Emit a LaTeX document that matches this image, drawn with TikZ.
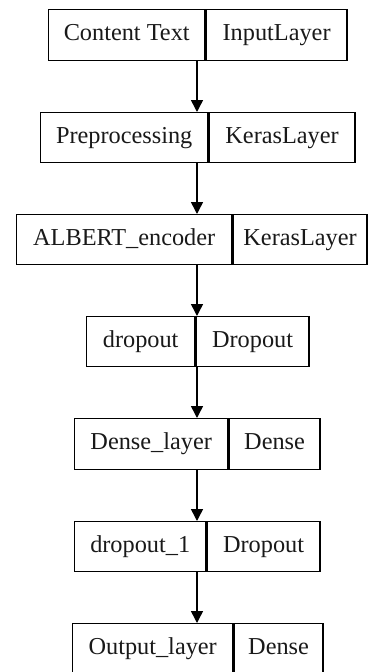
\documentclass[tikz,border=0pt]{standalone}
\usepackage{fontspec}
\setmainfont{Liberation Serif}
\usetikzlibrary{arrows.meta}
\begin{document}
\begin{tikzpicture}[x=1pt,y=-1pt,
  cell/.style={draw=black, line width=1.4pt, inner sep=0pt, anchor=north west,
    text height=16pt, text depth=5pt,
    font=\fontsize{24.3}{24.3}\selectfont, text=black!90},
  flow/.style={draw=black, line width=1.5pt, -{Triangle[width=12pt,length=12pt]}}]
\useasboundingbox (0,0) rectangle (367,672);
\coordinate (spine) at (197,0);
% layer name | layer type
\node[cell, minimum width=156, minimum height=51] (l1) at (48,9) {Content Text};
\node[cell, minimum width=141, minimum height=51] (r1) at (l1.north east) {InputLayer};
\node[cell, minimum width=167, minimum height=50] (l2) at (40,112) {Preprocessing};
\node[cell, minimum width=146, minimum height=50] (r2) at (l2.north east) {KerasLayer};
\node[cell, minimum width=215, minimum height=50] (l3) at (16,214) {ALBERT\_encoder};
\node[cell, minimum width=134, minimum height=50] (r3) at (l3.north east) {KerasLayer};
\node[cell, minimum width=108, minimum height=50] (l4) at (86,316) {dropout};
\node[cell, minimum width=113, minimum height=50] (r4) at (l4.north east) {Dropout};
\node[cell, minimum width=153, minimum height=51] (l5) at (74,418) {Dense\_layer};
\node[cell, minimum width=91, minimum height=51] (r5) at (l5.north east) {Dense};
\node[cell, minimum width=131, minimum height=50] (l6) at (74,521) {dropout\_1};
\node[cell, minimum width=113, minimum height=50] (r6) at (l6.north east) {Dropout};
\node[cell, minimum width=160, minimum height=50] (l7) at (72,623) {Output\_layer};
\node[cell, minimum width=89, minimum height=50] (r7) at (l7.north east) {Dense};
% connectors along the centre line
\foreach \a/\b in {1/2,2/3,3/4,4/5,5/6,6/7}
  \draw[flow] (l\a.south -| spine) -- (l\b.north -| spine);
\end{tikzpicture}
\end{document}
